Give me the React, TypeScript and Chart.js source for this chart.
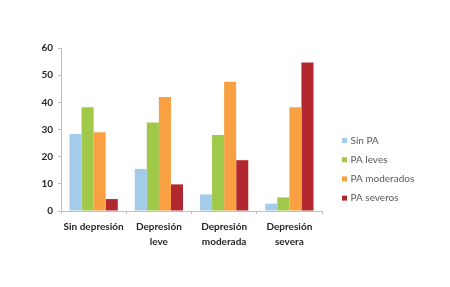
import React, { useEffect, useRef } from "react";
import { Chart, registerables } from "chart.js";

Chart.register(...registerables);

const categories: string[][] = [
  ["Sin depresión"],
  ["Depresión", "leve"],
  ["Depresión", "moderada"],
  ["Depresión", "severa"],
];
const seriesNames = ["Sin PA", "PA leves", "PA moderados", "PA severos"];
const seriesColors = ["#A3CBEA", "#A0C94A", "#F9A043", "#B2282F"];
const sinPA = [28.3, 15.5, 6.1, 2.7];
const paLeves = [38.2, 32.6, 28.0, 5.0];
const paModerados = [29.0, 42.0, 47.6, 38.2];
const paSeveros = [4.4, 9.8, 18.7, 54.7];
const yTicks = [0, 10, 20, 30, 40, 50, 60];

const FONT = "Lato, 'Open Sans', sans-serif";

const legendPlugin = {
  id: "customLegend",
  afterDraw(chart: any) {
    const ctx = chart.ctx;
    ctx.save();
    ctx.font = `10px ${FONT}`;
    ctx.textBaseline = "middle";
    chart.data.datasets.forEach((ds: any, i: number) => {
      const y = 140.5 + i * 19.2;
      ctx.fillStyle = ds.backgroundColor;
      ctx.fillRect(342, y - 2.5, 5, 5);
      ctx.fillStyle = "#595959";
      ctx.fillText(ds.label, 350.5, y);
    });
    ctx.restore();
  },
};

export default function App() {
  const ref = useRef<HTMLCanvasElement | null>(null);
  useEffect(() => {
    document.body.style.margin = "0";
    const values = [sinPA, paLeves, paModerados, paSeveros];
    const chart = new Chart(ref.current!, {
      type: "bar",
      data: {
        labels: categories,
        datasets: seriesNames.map((name, i) => ({
          label: name,
          data: values[i],
          backgroundColor: seriesColors[i],
          borderWidth: 0,
          categoryPercentage: 0.74,
          barPercentage: 1,
        })),
      },
      options: {
        animation: false,
        responsive: false,
        maintainAspectRatio: false,
        devicePixelRatio: 1,
        layout: { padding: { top: 48, right: 128, bottom: 0, left: 0 } },
        plugins: { legend: { display: false }, tooltip: { enabled: false } },
        scales: {
          x: {
            grid: {
              drawOnChartArea: false,
              drawTicks: true,
              tickLength: 3,
              color: "#BFBFBF",
            },
            border: { display: true, color: "#BFBFBF" },
            ticks: {
              color: "#262626",
              padding: 5,
              maxRotation: 0,
              autoSkip: false,
              font: { family: FONT, size: 10, weight: "bold", lineHeight: 1.5 },
            },
            afterFit: (s: any) => {
              s.height = 76;
            },
          },
          y: {
            min: 0,
            max: 60,
            afterBuildTicks: (s: any) => {
              s.ticks = yTicks.map((v) => ({ value: v }));
            },
            grid: {
              drawOnChartArea: false,
              drawTicks: true,
              tickLength: 3,
              color: "#BFBFBF",
            },
            border: { display: true, color: "#BFBFBF" },
            ticks: {
              color: "#262626",
              padding: 5,
              font: { family: FONT, size: 10, weight: "bold" },
            },
            afterFit: (s: any) => {
              s.width = 61;
            },
          },
        },
      },
      plugins: [legendPlugin],
    });
    return () => chart.destroy();
  }, []);
  return (
    <div style={{ position: "fixed", left: 0, top: 0, width: 450, height: 287, background: "#fff" }}>
      <canvas ref={ref} width={450} height={287} style={{ width: 450, height: 287 }} />
    </div>
  );
}
